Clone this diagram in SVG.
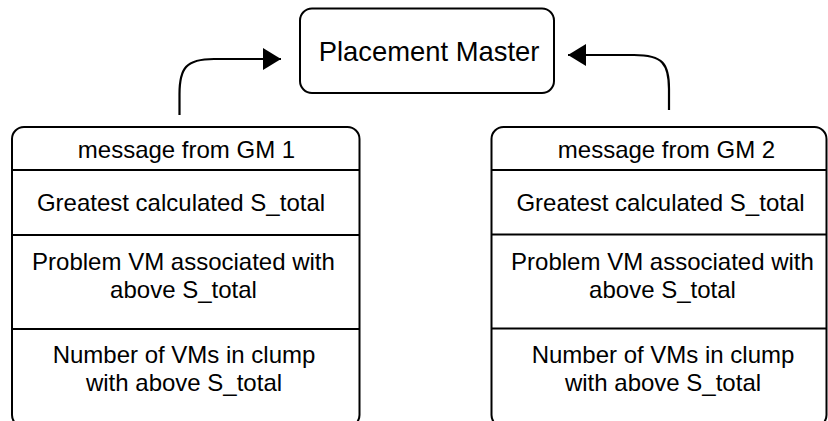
<svg xmlns="http://www.w3.org/2000/svg" width="828" height="421" viewBox="0 0 828 421">
<style>
.box{fill:#fff;stroke:#000;stroke-width:2}
.div{stroke:#000;stroke-width:2}
.t{font-family:"Liberation Sans",Arial,sans-serif;font-size:24px;fill:#000;text-anchor:middle}
.title{font-family:"Liberation Sans",Arial,sans-serif;font-size:27.4px;fill:#000;text-anchor:middle}
.edge{fill:none;stroke:#000;stroke-width:2.2}
</style>
<defs>
<marker id="ah" markerWidth="18" markerHeight="22" refX="18" refY="11" orient="auto" markerUnits="userSpaceOnUse">
<path d="M0 0 L18 11 L0 22 Z" fill="#000"/>
</marker>
</defs>
<rect width="828" height="421" fill="#fff"/>
<g id="connectors">
<path class="edge" d="M179.5 115 V94 C179.5 68 186 59 214 59 H281" marker-end="url(#ah)"/>
<path class="edge" d="M669 110 V89 C669 64 663 55 634 55 H568" marker-end="url(#ah)"/>
</g>
<g id="placement-master">
<rect class="box" x="300" y="8.5" width="254" height="84.5" rx="12"/>
<text class="title" x="429" y="61">Placement Master</text>
</g>
<g id="gm1">
<rect class="box" x="12" y="127" width="347.5" height="300" rx="12"/>
<line class="div" x1="12" y1="170" x2="359.5" y2="170"/>
<line class="div" x1="12" y1="235" x2="359.5" y2="235"/>
<line class="div" x1="12" y1="329" x2="359.5" y2="329"/>
<text class="t" x="186.5" y="158">message from GM 1</text>
<text class="t" x="181" y="211">Greatest calculated S_total</text>
<text class="t" x="183.5" y="270">Problem VM associated with</text>
<text class="t" x="183.5" y="298">above S_total</text>
<text class="t" x="184" y="363">Number of VMs in clump</text>
<text class="t" x="184" y="391">with above S_total</text>
</g>
<g id="gm2">
<rect class="box" x="491.5" y="127" width="335" height="300" rx="12"/>
<line class="div" x1="491.5" y1="170" x2="826.5" y2="170"/>
<line class="div" x1="491.5" y1="234.5" x2="826.5" y2="234.5"/>
<line class="div" x1="491.5" y1="328.5" x2="826.5" y2="328.5"/>
<text class="t" x="666.5" y="158">message from GM 2</text>
<text class="t" x="660.5" y="210.5">Greatest calculated S_total</text>
<text class="t" x="662.5" y="269.5">Problem VM associated with</text>
<text class="t" x="662.5" y="297.5">above S_total</text>
<text class="t" x="663" y="362.5">Number of VMs in clump</text>
<text class="t" x="663" y="390.5">with above S_total</text>
</g>
</svg>
